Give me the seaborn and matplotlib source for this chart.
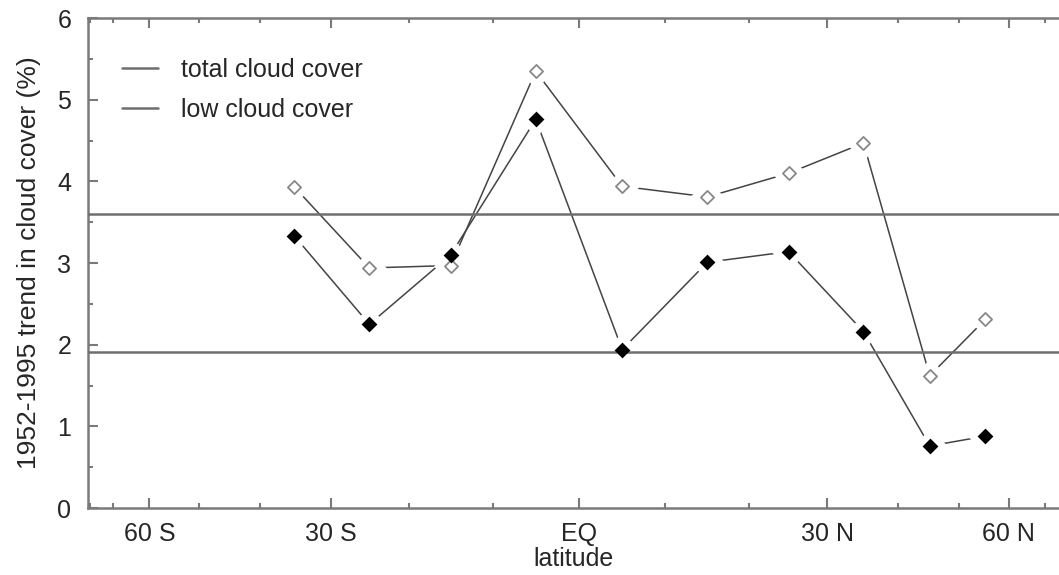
import numpy as np
import pandas as pd
import matplotlib
matplotlib.use("Agg")
import matplotlib.pyplot as plt
import seaborn as sns
from matplotlib.ticker import FixedLocator, MultipleLocator

# latitude band centres (degrees, negative = south)
latitude = [-35, -25, -15, -5, 5, 15, 25, 35, 45, 55]
total_cloud = [3.93, 2.94, 2.97, 5.35, 3.94, 3.81, 4.10, 4.47, 1.62, 2.31]
low_cloud = [3.33, 2.25, 3.10, 4.76, 1.94, 3.01, 3.14, 2.16, 0.76, 0.88]

# global mean trends (horizontal reference lines)
total_mean = 3.60
low_mean = 1.91

major_lats = [-60, -30, 0, 30, 60]
major_labels = ["60 S", "30 S", "EQ", "30 N", "60 N"]
minor_lats = list(range(-80, 80, 10))

df = pd.DataFrame({"lat": latitude, "total": total_cloud, "low": low_cloud})

sns.set_style("ticks")
plt.rcParams["font.family"] = ["Liberation Sans", "DejaVu Sans"]
plt.rcParams["font.size"] = 18


def sin_lat(x):
    return np.sin(np.radians(np.clip(x, -90, 90)))


def asin_lat(y):
    return np.degrees(np.arcsin(np.clip(y, -1, 1)))


fig = plt.figure(figsize=(10.59, 5.75), dpi=100)
ax = fig.add_axes([0.083, 0.1165, 0.917, 0.852])
ax.set_xscale("function", functions=(sin_lat, asin_lat))

line_col = "#444444"
ref_col = "#6e6e6e"

h_total = ax.axhline(total_mean, color=ref_col, lw=1.8, zorder=3.5)
h_low = ax.axhline(low_mean, color=ref_col, lw=1.8, zorder=3.5)

sns.lineplot(data=df, x="lat", y="total", sort=False, color=line_col, lw=1.1, ax=ax, zorder=2)
sns.lineplot(data=df, x="lat", y="low", sort=False, color=line_col, lw=1.1, ax=ax, zorder=2)

# white halos leave gaps in the lines around markers
ax.scatter(df["lat"], df["total"], marker="D", s=320, color="white", lw=0, zorder=3)
ax.scatter(df["lat"], df["low"], marker="D", s=320, color="white", lw=0, zorder=3)
ax.scatter(df["lat"], df["total"], marker="D", s=45, facecolor="white",
           edgecolor="#888888", lw=1.3, zorder=4)
ax.scatter(df["lat"], df["low"], marker="D", s=65, color="black", lw=0, zorder=4)

ax.set_xlim(-81.9, 75.4)
ax.set_ylim(0, 6)
ax.xaxis.set_major_locator(FixedLocator(major_lats))
ax.xaxis.set_minor_locator(FixedLocator(minor_lats))
ax.set_xticklabels(major_labels)
ax.yaxis.set_major_locator(MultipleLocator(1))
ax.yaxis.set_minor_locator(MultipleLocator(0.5))

spine_col = "#7a7a7a"
for side in ["left", "bottom", "top"]:
    ax.spines[side].set_color(spine_col)
    ax.spines[side].set_linewidth(1.8)
ax.spines["right"].set_visible(False)

ax.tick_params(which="both", direction="in", top=True, right=False,
               color=spine_col, width=1.5)
ax.tick_params(which="major", length=7, labelsize=18)
ax.tick_params(axis="x", which="major", pad=10)
ax.tick_params(axis="y", which="major", pad=12)
ax.tick_params(which="minor", length=3.6)

ax.set_xlabel("latitude", fontsize=18, labelpad=1)
ax.set_ylabel("1952-1995 trend in cloud cover (%)", fontsize=19, labelpad=12)

ax.legend([h_total, h_low], ["total cloud cover", "low cloud cover"],
          loc="upper left", bbox_to_anchor=(0.025, 0.939), borderaxespad=0,
          borderpad=0.4, frameon=False,
          handlelength=1.45, handletextpad=0.9, labelspacing=0.65, fontsize=18)

fig.savefig("out.png", dpi=100)
